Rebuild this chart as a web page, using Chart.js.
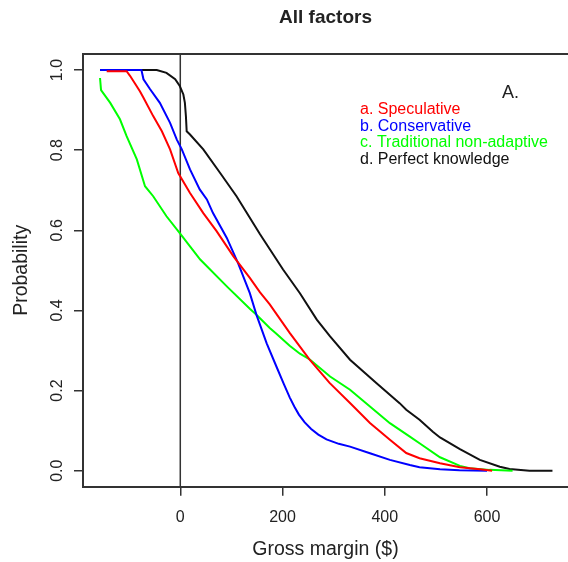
<!DOCTYPE html>
<html>
<head>
<meta charset="utf-8">
<script src="https://cdn.jsdelivr.net/npm/chart.js@4"></script>
<style>
  body { margin: 0; background: #fff; }
  #wrap { width: 568px; height: 562px; }
</style>
</head>
<body>
<div id="wrap"><canvas id="chart"></canvas></div>
<script>
// Cumulative probability curves (gross margin in $)
const specX = [-144, -105, -98, -79, -72, -53, -36, -20, -4, 19, 45, 71, 104, 136, 156, 175, 214, 253, 292, 332, 371, 410, 442, 468, 508, 547, 586, 610];
const specY = [0.997, 0.997, 0.985, 0.947, 0.931, 0.885, 0.847, 0.802, 0.743, 0.693, 0.643, 0.598, 0.535, 0.481, 0.445, 0.415, 0.344, 0.277, 0.219, 0.169, 0.119, 0.077, 0.044, 0.031, 0.0185, 0.0085, 0.0035, 0];

const consX = [-157, -76, -72, -59, -40, -20, -7, 3, 19, 38, 52, 64, 91, 113, 136, 149, 169, 188, 202, 214, 223, 232, 243, 256, 270, 286, 310, 332, 371, 410, 449, 468, 508, 546, 600];
const consY = [1.0, 1.0, 0.977, 0.952, 0.918, 0.868, 0.827, 0.802, 0.752, 0.702, 0.677, 0.643, 0.581, 0.518, 0.443, 0.389, 0.318, 0.26, 0.218, 0.183, 0.16, 0.14, 0.121, 0.104, 0.09, 0.078, 0.067, 0.06, 0.0435, 0.027, 0.014, 0.0085, 0.0035, 0.001, 0];

const tradX = [-157, -155, -137, -118, -105, -85, -69, -53, -27, -1, 19, 39, 91, 136, 149, 175, 188, 214, 234, 254, 293, 332, 371, 410, 449, 468, 508, 547, 566, 605, 650];
const tradY = [0.98, 0.95, 0.918, 0.877, 0.835, 0.777, 0.71, 0.685, 0.635, 0.593, 0.56, 0.527, 0.46, 0.404, 0.389, 0.356, 0.342, 0.312, 0.292, 0.277, 0.235, 0.202, 0.16, 0.1185, 0.085, 0.0685, 0.0335, 0.012, 0.006, 0.002, 0];

const perfX = [-76, -46, -27, -10, -1, 6, 9, 11, 12.5, 19, 45, 78, 110, 156, 201, 234, 267, 293, 332, 384, 429, 442, 468, 494, 508, 547, 586, 625, 644, 683, 728];
const perfY = [1.0, 1.0, 0.993, 0.977, 0.96, 0.939, 0.918, 0.885, 0.847, 0.839, 0.802, 0.743, 0.685, 0.59, 0.502, 0.443, 0.377, 0.335, 0.277, 0.2185, 0.1685, 0.152, 0.127, 0.097, 0.083, 0.054, 0.027, 0.01, 0.004, 0, 0];

// break-even reference line at 0 $
const zeroLineX = [0, 0];
const zeroLineY = [-0.04, 1.04];

const xTicks = [0, 200, 400, 600];
const yTicks = [0, 0.2, 0.4, 0.6, 0.8, 1.0];

const legendLabels = ["a. Speculative", "b. Conservative", "c. Traditional non-adaptive", "d. Perfect knowledge"];
const legendColors = ["#ff0000", "#0000ff", "#00ff00", "#111111"];

const FONT = "'Liberation Sans', Arial, sans-serif";

function toPoints(xs, ys) {
  return xs.map((x, i) => ({ x: x, y: ys[i] }));
}

function curve(label, xs, ys, color) {
  return {
    label: label,
    data: toPoints(xs, ys),
    borderColor: color,
    borderWidth: 2,
    pointRadius: 0,
    showLine: true,
    tension: 0,
    fill: false,
  };
}

// frame top line + legend text + panel letter
const extras = {
  id: "extras",
  afterDraw(chart) {
    const { ctx, chartArea } = chart;
    ctx.save();
    ctx.strokeStyle = "#333";
    ctx.lineWidth = 2;
    ctx.beginPath();
    ctx.moveTo(chartArea.left, chartArea.top);
    ctx.lineTo(chartArea.right, chartArea.top);
    ctx.stroke();

    ctx.font = "16px " + FONT;
    ctx.textAlign = "left";
    ctx.textBaseline = "middle";
    const rows = [110, 126.5, 143, 160];
    legendLabels.forEach((t, i) => {
      ctx.fillStyle = legendColors[i];
      ctx.fillText(t, 360, rows[i]);
    });

    ctx.fillStyle = "#222";
    ctx.font = "18px " + FONT;
    ctx.fillText("A.", 502, 93);
    ctx.restore();
  },
};

const ctx = document.getElementById("chart").getContext("2d");
const chart = new Chart(ctx, {
  type: "scatter",
  data: {
    datasets: [
      curve("a. Speculative", specX, specY, "#ff0000"),
      curve("b. Conservative", consX, consY, "#0000ff"),
      curve("c. Traditional non-adaptive", tradX, tradY, "#00ff00"),
      curve("d. Perfect knowledge", perfX, perfY, "#111111"),
      {
        label: "zero",
        data: toPoints(zeroLineX, zeroLineY),
        borderColor: "#333",
        borderWidth: 1.5,
        pointRadius: 0,
        showLine: true,
      },
    ],
  },
  options: {
    responsive: true,
    maintainAspectRatio: false,
    animation: false,
    layout: { padding: 0 },
    plugins: {
      legend: { display: false },
      tooltip: { enabled: false },
      title: {
        display: true,
        fullSize: false,
        text: "All factors",
        color: "#222",
        font: { family: FONT, size: 19, weight: "bold" },
        padding: { top: 6.6, bottom: 24.6 },
      },
    },
    scales: {
      x: {
        type: "linear",
        min: -190.3,
        max: 758.4,
        afterBuildTicks: (s) => { s.ticks = xTicks.map((v) => ({ value: v })); },
        afterFit: (s) => { s.height = 75.3; },
        ticks: {
          color: "#222",
          padding: 12,
          font: { family: FONT, size: 16 },
        },
        grid: { drawOnChartArea: false, tickLength: 9, color: "#333", lineWidth: 1.5 },
        border: { display: true, color: "#333", width: 2 },
        title: {
          display: true,
          text: "Gross margin ($)",
          color: "#222",
          font: { family: FONT, size: 19.5 },
          padding: { top: 0, bottom: 0.5 },
        },
      },
      y: {
        min: -0.04,
        max: 1.04,
        afterBuildTicks: (s) => { s.ticks = yTicks.map((v) => ({ value: v })); },
        afterFit: (s) => { s.width = 83; },
        ticks: {
          color: "#222",
          padding: 5,
          minRotation: 90,
          maxRotation: 90,
          crossAlign: "center",
          callback: (v) => v.toFixed(1),
          font: { family: FONT, size: 16 },
        },
        grid: { drawOnChartArea: false, tickLength: 9, color: "#333", lineWidth: 1.5 },
        border: { display: true, color: "#333", width: 2 },
        title: {
          display: true,
          text: "Probability",
          color: "#222",
          font: { family: FONT, size: 19.5 },
          padding: { top: 10, bottom: 0 },
        },
      },
    },
  },
  plugins: [extras],
});
</script>
</body>
</html>
